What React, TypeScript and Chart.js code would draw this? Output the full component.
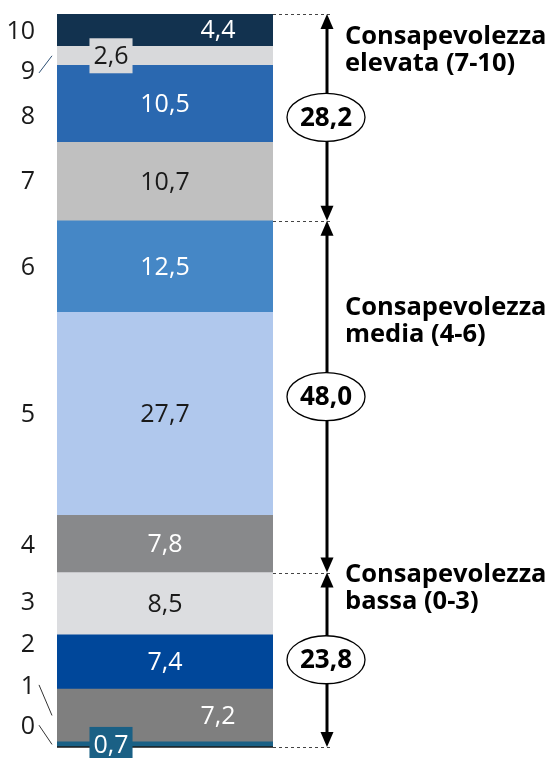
import React, { useEffect, useRef } from "react";
import { Chart, registerables } from "chart.js";

Chart.register(...registerables);

// ---- data ----
const levels = ["0", "1", "2", "3", "4", "5", "6", "7", "8", "9", "10"];
const values = [0.7, 7.2, 7.4, 8.5, 7.8, 27.7, 12.5, 10.7, 10.5, 2.6, 4.4];
const colors = [
  "#1a6085", "#7f7f7f", "#00479a", "#dcdde0", "#88898b", "#b0c8ed",
  "#4587c6", "#c0c0c0", "#2a68b0", "#d8d9db", "#12324f",
];
const labelColors = [
  "#ffffff", "#ffffff", "#ffffff", "#1a1a1a", "#ffffff", "#1a1a1a",
  "#ffffff", "#1a1a1a", "#ffffff", "#1a1a1a", "#ffffff",
];
const labelAnchor = ["box", "right", "center", "center", "center", "center", "center", "center", "center", "box", "right"];
// tick label positions on the 0-100 scale
const tickPositions = [2.7, 8.2, 13.9, 19.6, 27.4, 45.3, 65.3, 77.1, 86.0, 92.1, 97.5];
const leaderLevels = [0, 1, 9];
const groupNames = [
  ["Consapevolezza", "bassa (0-3)"],
  ["Consapevolezza", "media (4-6)"],
  ["Consapevolezza", "elevata (7-10)"],
];
const groupRanges = [[0, 3], [4, 6], [7, 10]];
const groupTotals = [23.8, 48.0, 28.2];
const groupLabelAt = [22.5, 58.9, 95.9];

const FAMILY = "'Open Sans', 'DejaVu Sans', sans-serif";
const fmt = (v: number) => v.toFixed(1).replace(".", ",");
const sumTo = (n: number) => values.slice(0, n).reduce((a, b) => a + b, 0);

const annotations = {
  id: "annotations",
  afterDatasetsDraw(chart: any) {
    const ctx = chart.ctx as CanvasRenderingContext2D;
    const y = chart.scales.y;
    const area = chart.chartArea;
    ctx.save();

    // baseline under bar
    ctx.strokeStyle = "#1a1a1a";
    ctx.lineWidth = 1.5;
    ctx.beginPath();
    ctx.moveTo(area.left, area.bottom);
    ctx.lineTo(area.right, area.bottom);
    ctx.stroke();

    // value labels
    ctx.font = `400 25px ${FAMILY}`;
    ctx.textAlign = "center";
    ctx.textBaseline = "middle";
    values.forEach((v, i) => {
      const bar = chart.getDatasetMeta(i).data[0];
      const cy = (bar.y + bar.base) / 2;
      const left = bar.x - bar.width / 2;
      let cx = bar.x;
      const text = fmt(v);
      if (labelAnchor[i] === "right") cx = bar.x + bar.width * 0.245;
      if (labelAnchor[i] === "box") {
        cx = left + bar.width * 0.25;
        const w = ctx.measureText(text).width + 8;
        const h = 35;
        ctx.fillStyle = colors[i];
        ctx.fillRect(cx - w / 2, cy - h / 2, w, h);
      }
      ctx.fillStyle = labelColors[i];
      ctx.fillText(text, cx, cy + 1);
    });

    // leader lines from tick labels
    leaderLevels.forEach((l) => {
      const ty = y.getPixelForValue(tickPositions[l]);
      const bar = chart.getDatasetMeta(l).data[0];
      const cy = (bar.y + bar.base) / 2;
      const sy = ty + (cy < ty ? 1 : -2);
      ctx.strokeStyle = l === 9 ? "#2d4f73" : "#333333";
      ctx.lineWidth = 1;
      ctx.beginPath();
      ctx.moveTo(area.left - 18, sy);
      ctx.lineTo(area.left - 5, cy);
      ctx.stroke();
    });

    // group brackets
    const ax = area.right + 54;
    const bounds = [0, ...groupRanges.map((r) => sumTo(r[1] + 1))];
    ctx.setLineDash([3, 3]);
    ctx.strokeStyle = "#444444";
    ctx.lineWidth = 1;
    bounds.forEach((b) => {
      const py = Math.round(y.getPixelForValue(b)) + 0.5;
      ctx.beginPath();
      ctx.moveTo(area.right, py);
      ctx.lineTo(area.right + 60, py);
      ctx.stroke();
    });
    ctx.setLineDash([]);

    groupRanges.forEach((r, g) => {
      const yBot = y.getPixelForValue(sumTo(r[0]));
      const yTop = y.getPixelForValue(sumTo(r[1] + 1));
      ctx.strokeStyle = "#000";
      ctx.fillStyle = "#000";
      ctx.lineWidth = 3;
      ctx.beginPath();
      ctx.moveTo(ax, yTop + 12);
      ctx.lineTo(ax, yBot - 12);
      ctx.stroke();
      // heads
      ctx.beginPath();
      ctx.moveTo(ax, yTop);
      ctx.lineTo(ax - 6.5, yTop + 15);
      ctx.lineTo(ax + 6.5, yTop + 15);
      ctx.closePath();
      ctx.fill();
      ctx.beginPath();
      ctx.moveTo(ax, yBot);
      ctx.lineTo(ax - 6.5, yBot - 15);
      ctx.lineTo(ax + 6.5, yBot - 15);
      ctx.closePath();
      ctx.fill();

      // ellipse with total
      const cy = (yTop + yBot) / 2;
      ctx.beginPath();
      ctx.ellipse(ax - 1, cy, 39, 24, 0, 0, Math.PI * 2);
      ctx.fillStyle = "#ffffff";
      ctx.fill();
      ctx.lineWidth = 1.3;
      ctx.strokeStyle = "#000";
      ctx.stroke();
      ctx.fillStyle = "#000";
      ctx.font = `700 26px ${FAMILY}`;
      ctx.textAlign = "center";
      ctx.textBaseline = "middle";
      ctx.fillText(fmt(groupTotals[g]), ax - 1, cy + 1);

      // group label
      ctx.font = `700 25.5px ${FAMILY}`;
      ctx.textAlign = "left";
      ctx.textBaseline = "alphabetic";
      const ly = y.getPixelForValue(groupLabelAt[g]);
      groupNames[g].forEach((line, k) => {
        ctx.fillText(line, area.right + 72, ly + k * 27);
      });
    });

    ctx.restore();
  },
};

export default function App() {
  const ref = useRef<HTMLCanvasElement | null>(null);

  useEffect(() => {
    if (!ref.current) return;
    const chart = new Chart(ref.current, {
      type: "bar",
      data: {
        labels: [""],
        datasets: values.map((v, i) => ({
          label: levels[i],
          data: [v],
          backgroundColor: colors[i],
          borderWidth: 0,
          barPercentage: 1,
          categoryPercentage: 1,
          stack: "s",
        })),
      },
      options: {
        animation: false,
        responsive: false,
        devicePixelRatio: 1,
        layout: { padding: { left: 0, right: 279, top: 14, bottom: 11 } },
        plugins: { legend: { display: false }, tooltip: { enabled: false } },
        scales: {
          x: { stacked: true, display: false },
          y: {
            stacked: true,
            min: 0,
            max: 100,
            position: "left",
            grid: { display: false, drawTicks: false },
            border: { display: false },
            afterBuildTicks: (s: any) => {
              s.ticks = tickPositions.map((v) => ({ value: v }));
            },
            afterFit: (s: any) => {
              s.width = 57;
              s.paddingTop = 0;
              s.paddingBottom = 0;
            },
            ticks: {
              autoSkip: false,
              crossAlign: "near",
              padding: 22,
              color: "#1a1a1a",
              font: { family: FAMILY, size: 25 },
              callback: (_v: any, i: number) => levels[i],
            },
          },
        },
      } as any,
      plugins: [annotations],
    });
    return () => chart.destroy();
  }, []);

  return (
    <div style={{ position: "absolute", left: 0, top: 0, width: 552, height: 758 }}>
      <canvas ref={ref} width={552} height={758} style={{ display: "block" }} />
    </div>
  );
}
